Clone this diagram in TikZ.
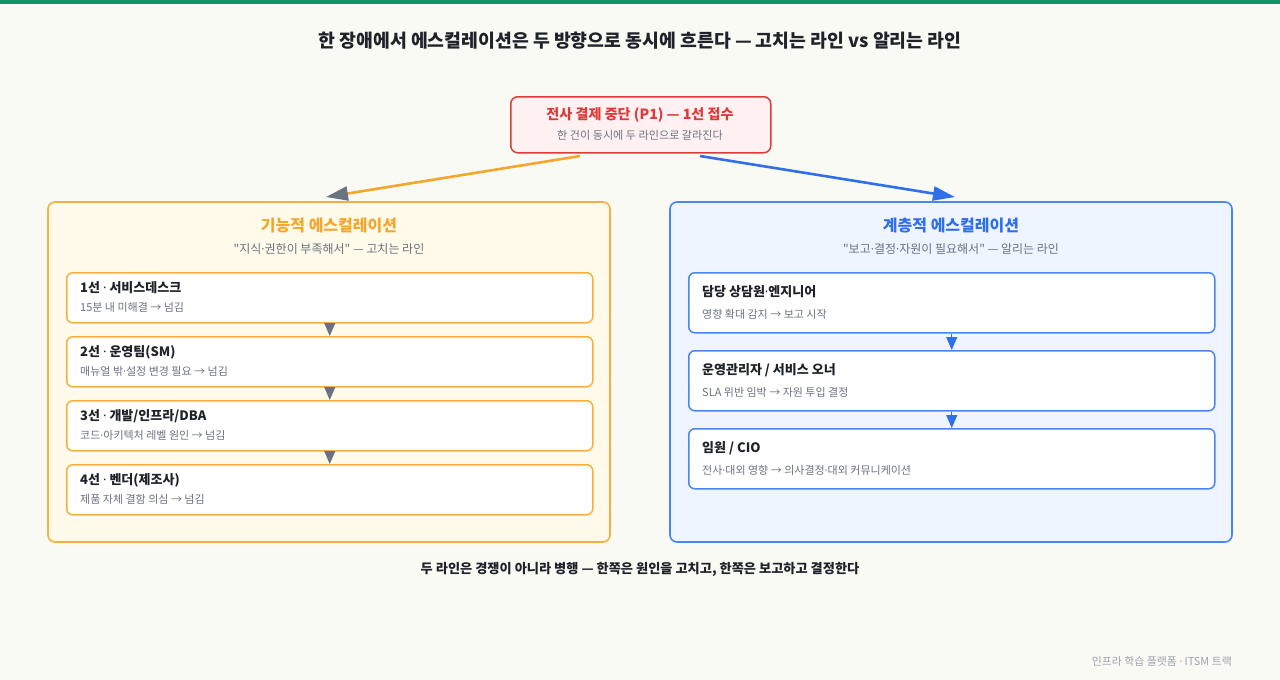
\documentclass[tikz,border=0pt]{standalone}
\usepackage{fontspec}
\setmainfont{Noto Sans CJK KR}[Ligatures=TeXOff]
\newfontfamily\dotfont{Noto Sans}[Ligatures=TeXOff]
\newcommand\md{{\dotfont ·}}
\usetikzlibrary{arrows.meta}
\definecolor{bg}{HTML}{FAFAF5}
\definecolor{topbar}{HTML}{0E9466}
\definecolor{ink}{HTML}{1F2329}
\definecolor{muted}{HTML}{6B7280}
\definecolor{faint}{HTML}{9CA3AF}
\definecolor{redc}{HTML}{DC3B3B}
\definecolor{redfill}{HTML}{FFF1F1}
\definecolor{orc}{HTML}{F4A72C}
\definecolor{orstroke}{HTML}{F6B040}
\definecolor{orfill}{HTML}{FFFAEA}
\definecolor{bluec}{HTML}{2F6FEA}
\definecolor{bluestroke}{HTML}{4A86F0}
\definecolor{bluefill}{HTML}{EEF5FF}
\definecolor{headgray}{HTML}{6B7280}
\tikzset{
  panel/.style={rounded corners=7pt, line width=1.6pt},
  itembox/.style={rounded corners=6pt, line width=1.5pt, fill=white, minimum width=526pt, anchor=north west, inner sep=0pt},
  ititle/.style={anchor=west, font=\bfseries\fontsize{13}{15}\selectfont, text=ink, inner sep=0pt},
  isub/.style={anchor=west, font=\fontsize{11}{13}\selectfont, text=muted, inner sep=0pt},
  flowgray/.style={draw=headgray, line width=1.2pt, -{Triangle[length=13pt,width=11pt]}, fill=headgray},
  flowblue/.style={draw=bluec, line width=1.2pt, -{Triangle[length=13pt,width=11pt]}, fill=bluec},
}
\begin{document}
\begin{tikzpicture}[x=1pt,y=-1pt]
\useasboundingbox (0,0) rectangle (1280,680);
\fill[bg] (0,0) rectangle (1280,680);
\fill[topbar] (0,0) rectangle (1280,4);

\node[font=\bfseries\fontsize{18.3}{22}\selectfont, text=ink] (title) at (640,41) {한 장애에서 에스컬레이션은 두 방향으로 동시에 흐른다 — 고치는 라인 vs 알리는 라인};

% top incident box
\node[draw=redc, fill=redfill, rounded corners=7pt, line width=1.5pt, minimum width=260pt, minimum height=56pt, anchor=north west, inner sep=0pt] (inc) at (510,96) {};
\node[font=\bfseries\fontsize{14.1}{17}\selectfont, text=redc] (inct) at (640,115) {전사 결제 중단 (P1) — 1선 접수};
\node[font=\fontsize{11.1}{13}\selectfont, text=muted] (incs) at (640,135) {한 건이 동시에 두 라인으로 갈라진다};

% panels
\draw[panel, draw=orstroke, fill=orfill] (48,202) rectangle (610,542);
\draw[panel, draw=bluestroke, fill=bluefill] (670,202) rectangle (1232,542);

\coordinate (a1) at (580,156);
\coordinate (a1e) at (326,197);
\coordinate (a2) at (700,156);
\coordinate (a2e) at (955,197);
\draw[draw=orc, line width=2.6pt, -{Triangle[length=22pt,width=14pt,fill=headgray,color=headgray]}] (a1) -- (a1e);
\draw[draw=bluec, line width=2.6pt, -{Triangle[length=22pt,width=14pt]}] (a2) -- (a2e);

\node[font=\bfseries\fontsize{16}{19}\selectfont, text=orc] (lt) at (329,226) {기능적 에스컬레이션};
\node[font=\fontsize{12}{14}\selectfont, text=muted] (ls) at (329,249) {"지식\md 권한이 부족해서" — 고치는 라인};
\node[font=\bfseries\fontsize{16}{19}\selectfont, text=bluec] (rt) at (951,226) {계층적 에스컬레이션};
\node[font=\fontsize{12}{14}\selectfont, text=muted] (rs) at (951,249) {"보고\md 결정\md 자원이 필요해서" — 알리는 라인};

% left items
\node[itembox, draw=orstroke, minimum height=50pt] (f1) at (66,272) {};
\node[itembox, draw=orstroke, minimum height=50pt] (f2) at (66,336) {};
\node[itembox, draw=orstroke, minimum height=50pt] (f3) at (66,400) {};
\node[itembox, draw=orstroke, minimum height=50pt] (f4) at (66,464) {};
\node[ititle] at (80,288) {1선 \md\ 서비스데스크};
\node[isub] at (80,307) {15분 내 미해결 → 넘김};
\node[ititle] at (80,352) {2선 \md\ 운영팀(SM)};
\node[isub] at (80,371) {매뉴얼 밖\md 설정 변경 필요 → 넘김};
\node[ititle] at (80,416) {3선 \md\ 개발/인프라/DBA};
\node[isub] at (80,435) {코드\md 아키텍처 레벨 원인 → 넘김};
\node[ititle] at (80,480) {4선 \md\ 벤더(제조사)};
\node[isub] at (80,499) {제품 자체 결함 의심 → 넘김};
\draw[flowgray] (f1.south) -- (f2.north);
\draw[flowgray] (f2.south) -- (f3.north);
\draw[flowgray] (f3.south) -- (f4.north);

% right items
\node[itembox, draw=bluestroke, minimum height=60pt] (h1) at (688,272) {};
\node[itembox, draw=bluestroke, minimum height=60pt] (h2) at (688,350) {};
\node[itembox, draw=bluestroke, minimum height=60pt] (h3) at (688,428) {};
\node[ititle] at (702,292) {담당 상담원\md 엔지니어};
\node[isub] at (702,314) {영향 확대 감지 → 보고 시작};
\node[ititle] at (702,370) {운영관리자 / 서비스 오너};
\node[isub] at (702,392) {SLA 위반 임박 → 자원 투입 결정};
\node[ititle] at (702,448) {임원 / CIO};
\node[isub] at (702,470) {전사\md 대외 영향 → 의사결정\md 대외 커뮤니케이션};
\draw[flowblue] (h1.south) -- (h2.north);
\draw[flowblue] (h2.south) -- (h3.north);

\node[font=\bfseries\fontsize{13.2}{15}\selectfont, text=ink] (bottom) at (640,569) {두 라인은 경쟁이 아니라 병행 — 한쪽은 원인을 고치고, 한쪽은 보고하고 결정한다};
\node[anchor=east, font=\fontsize{10.9}{13}\selectfont, text=faint, inner sep=0pt] (foot) at (1232,661) {인프라 학습 플랫폼 \md\ ITSM 트랙};
\end{tikzpicture}
\end{document}
